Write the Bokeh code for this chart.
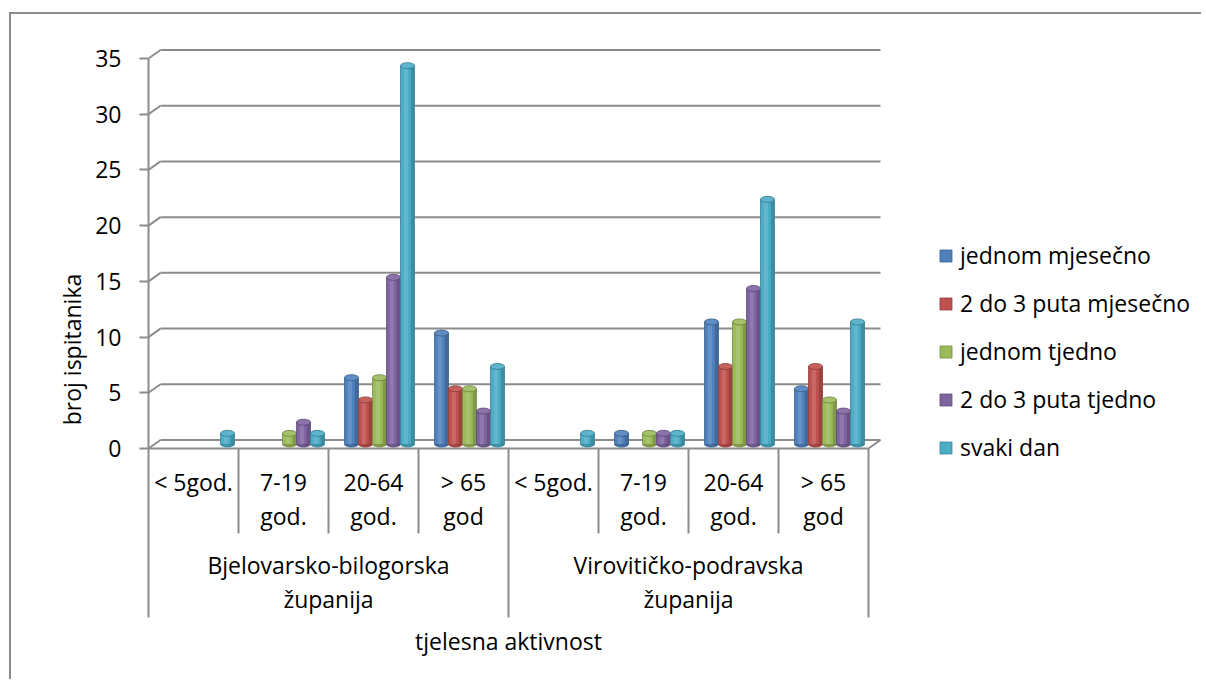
import math
from bokeh.plotting import figure
from bokeh.models import (ColumnDataSource, FixedTicker, Range1d, Legend, LegendItem, Title)
from bokeh.core.properties import value
from bokeh.embed import file_html
from bokeh.resources import INLINE

# ---------------- data ----------------
counties = ["Bjelovarsko-bilogorska\nžupanija", "Virovitičko-podravska\nžupanija"]
age_groups = ["< 5god.", "7-19\ngod.", "20-64\ngod.", "> 65\ngod"]
series_names = ["jednom mjesečno", "2 do 3 puta mjesečno", "jednom tjedno",
                "2 do 3 puta tjedno", "svaki dan"]
series_colors = ["#4F81BD", "#C0504D", "#9BBB59", "#8064A2", "#4BACC6"]
# order: Bjelovar (<5, 7-19, 20-64, >65), Virovitica (<5, 7-19, 20-64, >65)
jednom_mjesecno = [0, 0, 6, 10, 0, 1, 11, 5]
dva_do_tri_mjesecno = [0, 0, 4, 5, 0, 0, 7, 7]
jednom_tjedno = [0, 1, 6, 5, 0, 1, 11, 4]
dva_do_tri_tjedno = [0, 2, 15, 3, 0, 1, 14, 3]
svaki_dan = [1, 1, 34, 7, 1, 1, 22, 11]
y_ticks = [0, 5, 10, 15, 20, 25, 30, 35]
y_title = "broj ispitanika"
x_title = "tjelesna aktivnost"

series_values = [jednom_mjesecno, dva_do_tri_mjesecno, jednom_tjedno,
                 dva_do_tri_tjedno, svaki_dan]

# ---------------- geometry (page pixels -> data) ----------------
BORDER_X, BORDER_Y = 9, 12         # outer chart border (page px)
BW_PX = 2                          # border width
CX, CY = BORDER_X + BW_PX, BORDER_Y + BW_PX   # page position of canvas origin
W, H = 1192, 667
ZERO_X, ZERO_Y = 148, 448          # page px of x=0 / y=0
PX = 90.0                          # px per category
PY = 390.0 / 35.0                  # px per unit
FRAME_L, FRAME_R, FRAME_T, FRAME_B = 148, 1192, 33, 665

x_lo = (FRAME_L - ZERO_X) / PX
x_hi = (FRAME_R - ZERO_X) / PX
y_hi = (ZERO_Y - FRAME_T) / PY
y_lo = -(FRAME_B - ZERO_Y) / PY

def ux(px):
    return px / PX

def uy(px):
    return px / PY

def ypage(py):
    return (ZERO_Y - py) / PY

n_cat = len(age_groups) * len(counties)
DX, DY = ux(12), uy(8.5)           # 3D depth offset
GRID = "#8c8c8c"
FONT = "Open Sans"
FS = "23px"

p = figure(width=W, height=H, x_range=Range1d(x_lo, x_hi), y_range=Range1d(y_lo, y_hi),
           output_backend="svg", toolbar_location=None, x_axis_location=None,
           min_border_left=FRAME_L - CX, min_border_right=CX + W - FRAME_R,
           min_border_top=FRAME_T - CY, min_border_bottom=CY + H - FRAME_B)
p.margin = (BORDER_Y, 0, 0, BORDER_X)
p.styles = {"border-left": "%dpx solid %s" % (BW_PX, GRID),
            "border-top": "%dpx solid %s" % (BW_PX, GRID)}
p.outline_line_color = None
p.xgrid.visible = False
p.ygrid.visible = False
p.background_fill_color = "white"
p.border_fill_color = "white"

# y axis
ya = p.yaxis[0]
ya.ticker = FixedTicker(ticks=y_ticks)
ya.bounds = (ypage(617), max(y_ticks))
ya.axis_line_color = GRID
ya.axis_line_width = 2
ya.major_tick_line_color = GRID
ya.major_tick_line_width = 2
ya.major_tick_in = 0
ya.major_tick_out = 9
ya.minor_tick_line_color = None
ya.major_label_standoff = 18
ya.major_label_text_font = FONT
ya.major_label_text_font_size = FS
ya.major_label_text_color = "black"

# y title, centred on the 0..35 value range
frame_mid = (FRAME_T + FRAME_B) / 2
p.add_layout(Title(text=y_title, align="center", offset=frame_mid - 253,
                   text_font=FONT, text_font_size=FS, text_font_style="normal",
                   text_color="black"), "left")

# 3D walls: back gridlines + diagonals
gx0, gy0, gx1, gy1 = [], [], [], []
for t in y_ticks:
    gx0 += [0, DX]
    gy0 += [t, t + DY]
    gx1 += [DX, n_cat + DX]
    gy1 += [t + DY, t + DY]
# floor front + right diagonal
gx0 += [0, n_cat]
gy0 += [0, 0]
gx1 += [n_cat, n_cat + DX]
gy1 += [0, DY]
p.segment(x0=gx0, y0=gy0, x1=gx1, y1=gy1, line_color=GRID, line_width=2)

# category table lines
short_bottom = ypage(533)
long_bottom = ypage(617)
tx, ty0, ty1 = [], [], []
for i in range(1, n_cat + 1):
    tx.append(i)
    ty0.append(0)
    ty1.append(long_bottom if i % len(age_groups) == 0 else short_bottom)
p.segment(x0=tx, y0=ty0, x1=tx, y1=ty1, line_color=GRID, line_width=2)

# bars (cylinder look)
BW = ux(14)
SHIFT = ux(6)
DZ = uy(4)
CAP = uy(6)

def shade(hexc, f):
    r, g, b = int(hexc[1:3], 16), int(hexc[3:5], 16), int(hexc[5:7], 16)
    if f < 0:
        r, g, b = [int(c * (1 + f)) for c in (r, g, b)]
    else:
        r, g, b = [int(c + (255 - c) * f) for c in (r, g, b)]
    return "#%02x%02x%02x" % (r, g, b)

legend_items = []
n_s = len(series_names)
for k, (name, col, vals) in enumerate(zip(series_names, series_colors, series_values)):
    xs = [i + 0.5 + (k - (n_s - 1) / 2) * BW + SHIFT for i, v in enumerate(vals) if v > 0]
    vv = [v for v in vals if v > 0]
    src = ColumnDataSource(dict(x=xs, top=[v + DZ for v in vv], bottom=[DZ] * len(vv),
                                hx=[x - BW * 0.12 for x in xs], dx=[x + BW * 0.36 for x in xs]))
    p.ellipse(x="x", y="bottom", width=BW, height=CAP, source=src,
              fill_color=shade(col, -0.15), line_color=None)
    r = p.vbar(x="x", top="top", bottom="bottom", width=BW, source=src,
               fill_color=col, line_color=shade(col, -0.25), line_width=0.8)
    p.vbar(x="hx", top="top", bottom="bottom", width=BW * 0.3, source=src,
           fill_color=shade(col, 0.3), fill_alpha=0.45, line_color=None)
    p.vbar(x="dx", top="top", bottom="bottom", width=BW * 0.25, source=src,
           fill_color=shade(col, -0.35), fill_alpha=0.5, line_color=None)
    p.ellipse(x="x", y="top", width=BW, height=CAP, source=src,
              fill_color=shade(col, 0.1), line_color=shade(col, -0.3), line_width=0.8)
    legend_items.append(LegendItem(label=name, renderers=[r]))

# category labels
LH = 1.09
age_x = [i + 0.5 for i in range(n_cat)]
age_lab = [age_groups[i % len(age_groups)] for i in range(n_cat)]
p.text(x=age_x, y=[ypage(465)] * n_cat, text=age_lab,
       text_font=value(FONT), text_font_size=FS, text_align="center",
       text_baseline="top", text_line_height=LH, text_color="black")
cty_x = [len(age_groups) * (j + 0.5) for j in range(len(counties))]
p.text(x=cty_x, y=[ypage(548)] * len(counties), text=counties,
       text_font=value(FONT), text_font_size=FS, text_align="center",
       text_baseline="top", text_line_height=LH, text_color="black")
p.text(x=[n_cat / 2], y=[ypage(640)], text=[x_title],
       text_font=value(FONT), text_font_size=FS, text_align="center",
       text_baseline="middle", text_color="black")

legend = Legend(items=legend_items, location=(938 - FRAME_L, FRAME_B - 463),
                glyph_width=15, glyph_height=15, label_standoff=7, spacing=16,
                label_height=31, padding=0, margin=0, border_line_color=None,
                background_fill_alpha=0, label_text_font=FONT, label_text_font_size=FS,
                label_text_color="black")
p.add_layout(legend)

open("out.html", "w").write(file_html(p, INLINE))
